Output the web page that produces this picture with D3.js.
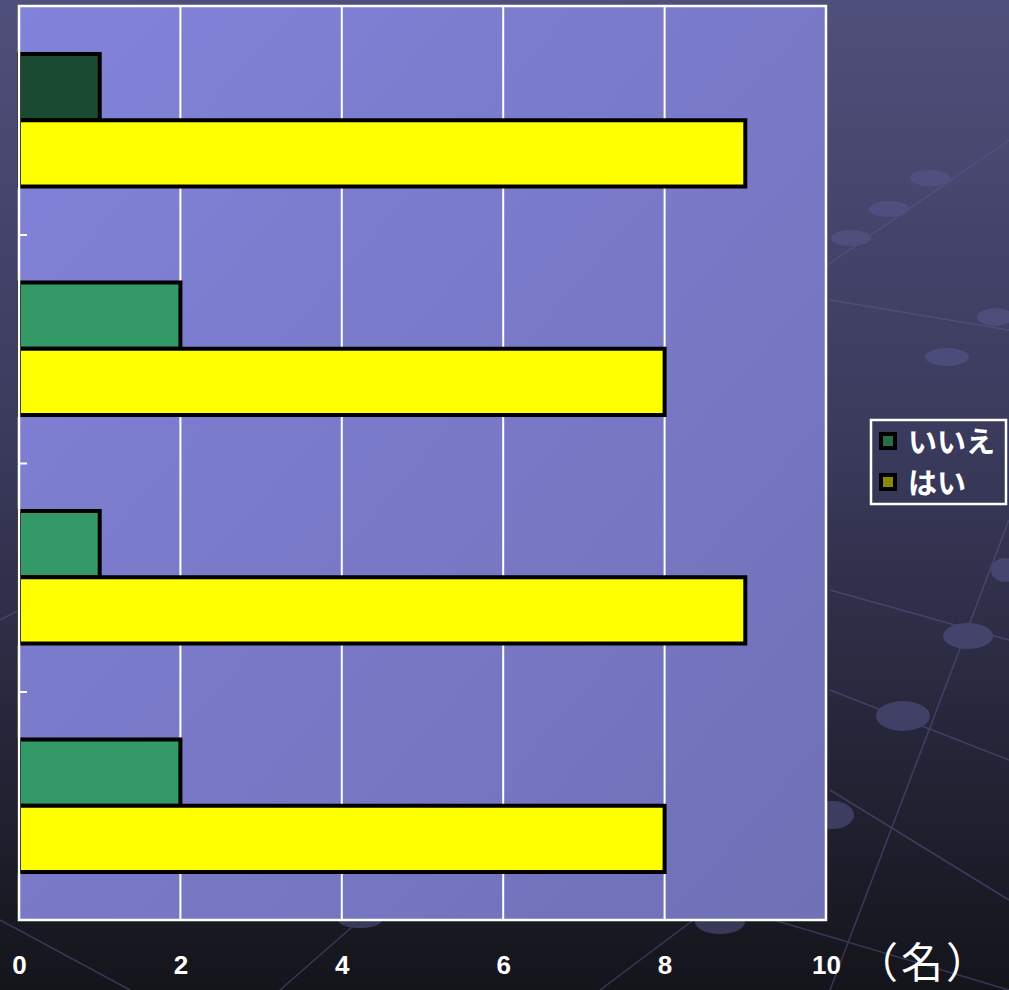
<!DOCTYPE html>
<html>
<head>
<meta charset="utf-8">
<script src="https://cdn.jsdelivr.net/npm/d3@7"></script>
<style>
body { margin: 0; background: #15151c; }
svg { display: block; }
</style>
</head>
<body>
<script>
var width = 1009;
var height = 990;

// data
var categories = ["1", "2", "3", "4"]
var series = ["いいえ", "はい"]
var noValues = [1, 2, 1, 2]
var yesValues = [9, 8, 9, 8]
var xTicks = [0, 2, 4, 6, 8, 10]
var unitLabel = "（名）"

// styles
var noColors = ["#1b4a33", "#339966", "#339966", "#339966"]
var yesColor = "#ffff00"
var legendColors = ["#276b47", "#8a8a00"]

var plot = {left: 19, right: 826, top: 6, bottom: 920}

var svg = d3.select("body").append("svg")
.attr("width", width)
.attr("height", height)

var defs = svg.append("defs")
var bg = defs.append("linearGradient").attr("id", "bg")
.attr("x1", 0).attr("y1", 0).attr("x2", 0).attr("y2", 1)
bg.append("stop").attr("offset", "0%").attr("stop-color", "#4f4f7b")
bg.append("stop").attr("offset", "45%").attr("stop-color", "#3a3a5c")
bg.append("stop").attr("offset", "100%").attr("stop-color", "#14141b")

var pg = defs.append("linearGradient").attr("id", "pg")
.attr("x1", 0).attr("y1", 0).attr("x2", 1).attr("y2", 1)
pg.append("stop").attr("offset", "0%").attr("stop-color", "#8282da")
pg.append("stop").attr("offset", "100%").attr("stop-color", "#7070b6")

svg.append("rect").attr("width", width).attr("height", height).attr("fill", "url(#bg)")

// faint background decoration
var deco = svg.append("g").attr("opacity", 0.5)
var decoLines = [[820, 270, 1009, 140], [830, 300, 1009, 330], [830, 590, 1009, 640], [830, 690, 1009, 760],
  [830, 790, 1009, 900], [830, 990, 1009, 520], [600, 990, 760, 870], [0, 920, 130, 990], [280, 990, 360, 920],
  [740, 910, 1009, 990], [0, 620, 19, 610]]
deco.selectAll("line").data(decoLines).enter().append("line")
.attr("x1", d => d[0]).attr("y1", d => d[1]).attr("x2", d => d[2]).attr("y2", d => d[3])
.attr("stroke", "#5a5a90").attr("stroke-width", 1.5)
var decoDots = [[930, 178, 20, 8], [889, 209, 20, 8], [851, 238, 20, 8], [995, 317, 18, 9], [947, 357, 22, 9],
  [1005, 570, 14, 12], [968, 636, 25, 13], [903, 716, 27, 15], [832, 815, 22, 14], [720, 922, 25, 12], [360, 920, 22, 8]]
deco.selectAll("ellipse").data(decoDots).enter().append("ellipse")
.attr("cx", d => d[0]).attr("cy", d => d[1]).attr("rx", d => d[2]).attr("ry", d => d[3])
.attr("fill", "#5a5a92")

var x = d3.scaleLinear()
.domain([0, 10])
.range([plot.left, plot.right])

var y = d3.scaleBand()
.domain(categories)
.range([plot.top, plot.bottom])
.paddingInner(0.42)
.paddingOuter(0.21)

var ySub = d3.scaleBand()
.domain(series)
.range([0, y.bandwidth()])

svg.append("rect")
.attr("x", plot.left).attr("y", plot.top)
.attr("width", plot.right - plot.left).attr("height", plot.bottom - plot.top)
.attr("fill", "url(#pg)")

// grid lines
svg.append("g").selectAll("line")
.data(xTicks.slice(1, -1))
.enter().append("line")
.attr("x1", d => x(d)).attr("x2", d => x(d))
.attr("y1", plot.top).attr("y2", plot.bottom)
.attr("stroke", "#ffffff").attr("stroke-width", 2)

// category ticks on left side
var yTick = d3.scaleLinear().domain([0, categories.length]).range([plot.top, plot.bottom])
var leftAxis = svg.append("g")
.attr("transform", "translate(" + plot.left + ",0)")
.call(d3.axisRight(yTick).tickValues([1, 2, 3]).tickSize(8).tickFormat(""))
leftAxis.select(".domain").remove()
leftAxis.selectAll("line").attr("stroke", "#ffffff").attr("stroke-width", 2)

var groups = svg.append("g").selectAll("g")
.data(categories)
.enter().append("g")
.attr("transform", d => "translate(0," + y(d) + ")")

groups.append("rect")
.attr("x", x(0))
.attr("y", ySub("いいえ"))
.attr("width", (d, i) => x(noValues[i]) - x(0))
.attr("height", ySub.bandwidth())
.attr("fill", (d, i) => noColors[i])
.attr("stroke", "#000").attr("stroke-width", 4)

groups.append("rect")
.attr("x", x(0))
.attr("y", ySub("はい"))
.attr("width", (d, i) => x(yesValues[i]) - x(0))
.attr("height", ySub.bandwidth())
.attr("fill", yesColor)
.attr("stroke", "#000").attr("stroke-width", 4)

// plot border
svg.append("rect")
.attr("x", plot.left).attr("y", plot.top)
.attr("width", plot.right - plot.left).attr("height", plot.bottom - plot.top)
.attr("fill", "none").attr("stroke", "#ffffff").attr("stroke-width", 2.5)

// x axis labels
var xAxis = svg.append("g")
.attr("transform", "translate(0," + 956 + ")")
.call(d3.axisBottom(x).tickValues(xTicks).tickSize(0).tickPadding(0))
xAxis.select(".domain").remove()
xAxis.selectAll("text")
.attr("fill", "#ffffff")
.style("font-family", "'Liberation Sans', Arial, sans-serif")
.style("font-weight", "bold")
.style("font-size", "26px")
.attr("dy", "0.71em")

svg.append("text")
.attr("x", 856).attr("y", 978)
.attr("fill", "#ffffff")
.style("font-family", "'Noto Sans CJK JP', sans-serif")
.style("font-size", "42px")
.style("letter-spacing", "3px")
.text(unitLabel)

// legend
var legend = svg.append("g")
legend.append("rect")
.attr("x", 871).attr("y", 420).attr("width", 135).attr("height", 84)
.attr("fill", "none").attr("stroke", "#ffffff").attr("stroke-width", 2.5)

var items = legend.selectAll("g.item")
.data(series)
.enter().append("g")
.attr("class", "item")
.attr("transform", (d, i) => "translate(879," + (432 + i * 41) + ")")

items.append("rect")
.attr("width", 18).attr("height", 18)
.attr("fill", "#000")
items.append("rect")
.attr("x", 4).attr("y", 4).attr("width", 10).attr("height", 10)
.attr("fill", (d, i) => legendColors[i])
items.append("text")
.attr("x", 29).attr("y", 21)
.attr("fill", "#ffffff")
.style("font-family", "'Noto Sans CJK JP', sans-serif")
.style("font-weight", "bold")
.style("font-size", "29px")
.text(d => d)
</script>
</body>
</html>
